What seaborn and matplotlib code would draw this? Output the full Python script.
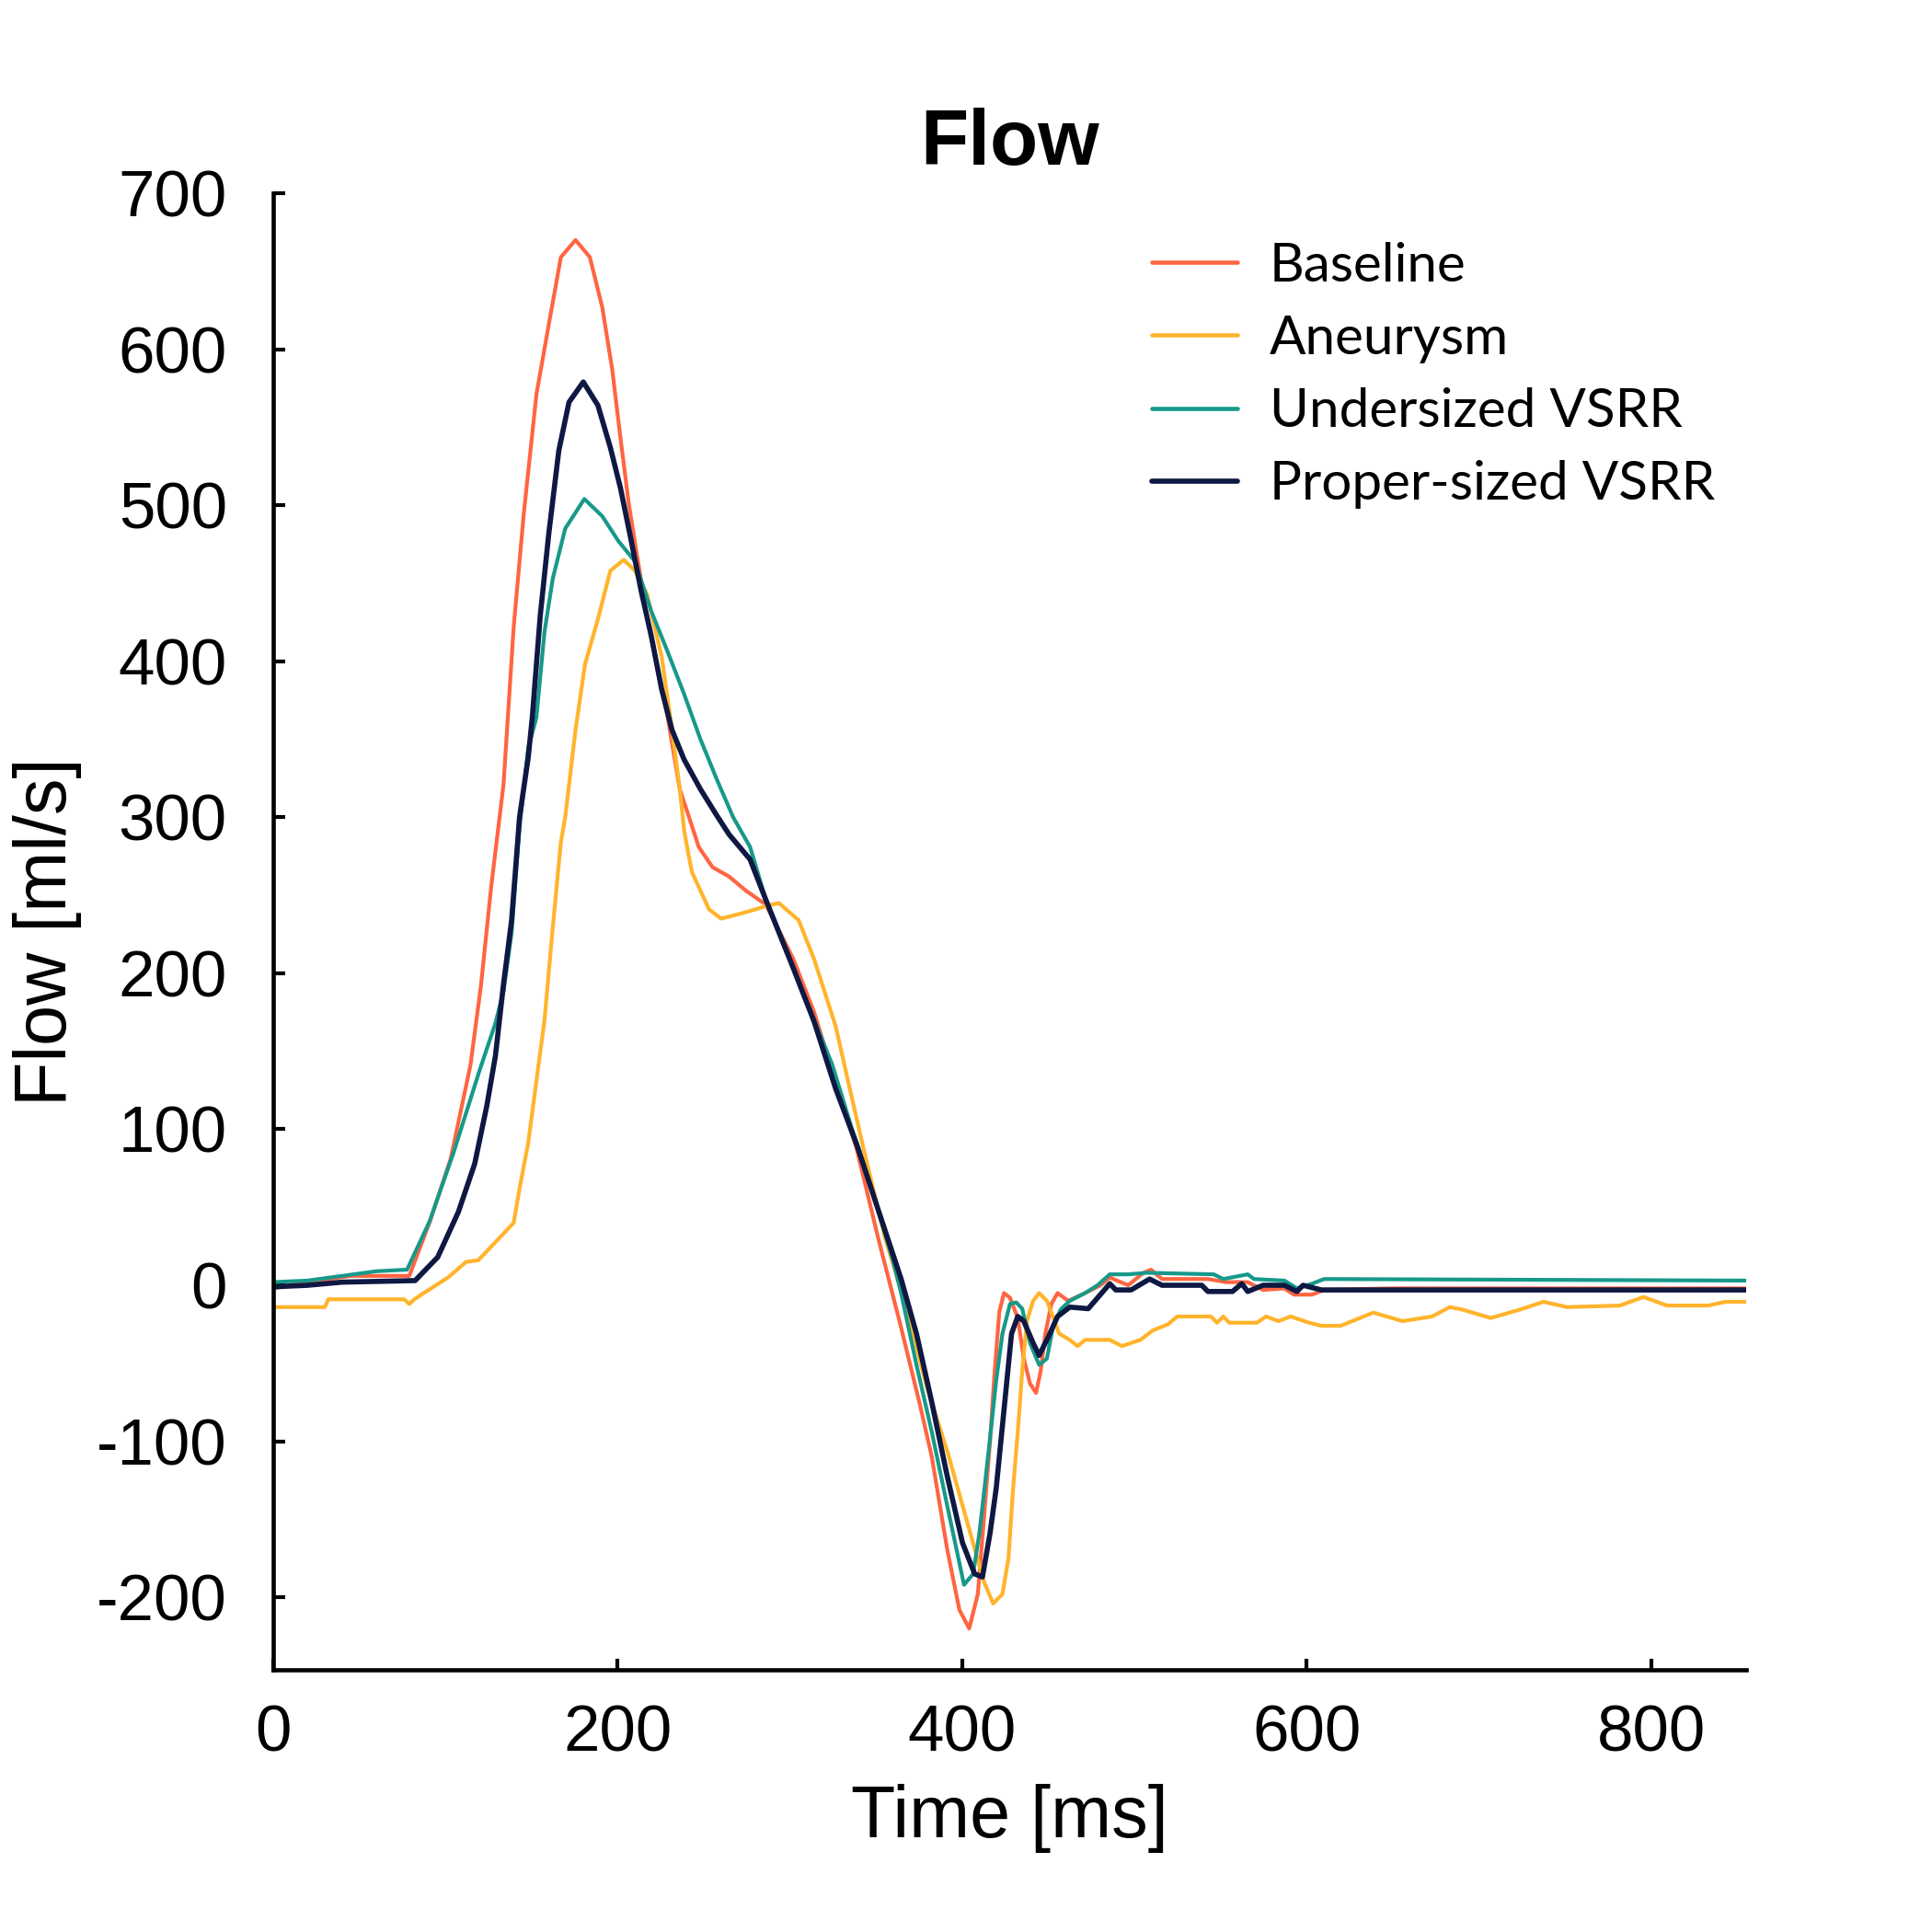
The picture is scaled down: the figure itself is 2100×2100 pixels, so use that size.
import numpy as np
import pandas as pd
import matplotlib
matplotlib.use("Agg")
import matplotlib.pyplot as plt
import seaborn as sns

# ---------------- data ----------------
series_names = ["Baseline", "Aneurysm", "Undersized VSRR", "Proper-sized VSRR"]
series_colors = ["#FF6542", "#FFB42C", "#17998A", "#0E1842"]

t_baseline = [0, 20, 45, 79, 91, 103, 114.5, 120.6, 126.5, 133.7, 139.6, 145.5, 152.8, 160, 167,
              175.5, 183.8, 191, 196.8, 201.6, 206.4, 211, 217, 223, 229, 236, 242, 247, 255,
              264.6, 274.3, 286, 302, 314, 326.5, 338.8, 351, 364, 375.5, 382.3, 391.2, 398.3,
              404, 409, 412.6, 416.1, 418.8, 421.5, 424.2, 427.7, 432.2, 435.7, 439.3, 442.8,
              445.5, 448.2, 451.7, 455.3, 461.5, 471.3, 480.2, 485.6, 496.3, 505.2, 509.6, 515.9,
              542.6, 553.2, 565.7, 574.6, 587.1, 592.4, 603, 610, 650, 855]
flow_baseline = [-2, 2, 6, 6, 41, 81, 141, 192, 255, 321, 422, 495, 571, 616, 659,
                 670, 659, 627, 587, 543, 501, 469, 429, 395, 364, 318, 298, 281, 268,
                 262, 253, 244, 209, 175, 130, 87, 31, -25, -77, -110, -169, -208,
                 -220, -198, -149, -100, -55, -17, -5, -8, -21, -47, -63, -69,
                 -55, -31, -12, -5, -10, -5, 0, 5, 0, 8, 10, 4,
                 4, 2, 2, -3, -2, -6, -6, -3, -2, -2]

t_aneurysm = [0, 30, 32, 60, 76, 79, 82, 86, 101.5, 112, 119, 139.6, 143, 148, 154, 157.5, 162,
              167, 169.5, 175.5, 181, 188.5, 195.7, 203.5, 210, 217, 225.5, 231.5, 236, 238.6,
              243, 253, 260, 274, 286, 293.5, 305, 314, 326.5, 334.7, 342.8, 355, 367.4, 379.6,
              391.5, 400.1, 407.2, 412.6, 417.9, 423.3, 426.8, 429.5, 432.2, 434.8, 437.5, 441.1,
              444.6, 449.1, 452.6, 456.2, 462.4, 466.9, 471.3, 485.6, 492.7, 503.4, 510.5, 519.4,
              524.8, 544.3, 547.9, 551.5, 555, 571, 576.4, 583.5, 590.6, 601.3, 608.5, 619.6,
              638.6, 655.6, 672.7, 683, 690, 706.8, 724, 737.4, 751, 781.8, 795.4, 809, 833,
              843, 855]
flow_aneurysm = [-14, -14, -9, -9, -9, -12, -9, -6, 5, 15, 16, 40, 62, 91, 141, 170, 226,
                 284, 300, 356, 398, 427, 458, 465, 458, 443, 403, 356, 318, 291,
                 265, 241, 235, 239, 243, 245, 234, 209, 166, 126, 87, 31, -14, -66,
                 -107, -141, -169, -190, -204, -198, -175, -130, -94, -55, -23, -10,
                 -5, -10, -20, -31, -35, -39, -35, -35, -39, -35, -29, -25,
                 -20, -20, -24, -20, -24, -24, -20, -23, -20, -24, -26, -26,
                 -17.5, -23, -20, -14, -15.5, -21, -15.5, -10.6, -14, -13, -7.5, -13, -13,
                 -10.6, -10.6]

t_undersized = [0, 20, 40, 60, 77.7, 90.8, 105, 119.3, 129, 133.8, 138.4, 143, 148, 152.8,
                157.5, 162.3, 169.5, 180.6, 191, 200.4, 210, 219.5, 229, 238.5, 248, 257.6,
                267, 276.8, 286, 298, 310, 324.5, 336, 348, 360, 364.5, 373.4, 382.3, 391.2,
                396.6, 401, 406.3, 409.9, 412.6, 416.1, 419.7, 423.3, 427.7, 431.3, 434.8,
                439.3, 444.6, 449.1, 452.6, 457.1, 462.4, 471.3, 478.5, 485.6, 496.3, 507,
                546, 551.5, 565.7, 569.3, 587, 594.2, 603, 610, 855]
flow_undersized = [2, 3, 6, 9, 10, 41, 86, 136, 168, 189, 226, 294, 344, 364,
                   419, 453, 485, 504, 493, 477, 464, 432, 406, 379, 350, 324,
                   300, 281, 247, 215, 181, 141.5, 100, 60, 15, -5, -51, -94, -141,
                   -169, -192, -185, -159, -133, -98, -61, -31, -12, -11, -15,
                   -37, -51, -47, -27, -15.5, -10, -5, 0, 7, 7, 8,
                   7, 4, 7, 4, 3, -2, 1, 4, 3]

t_proper = [0, 20, 40, 82.4, 95.5, 107.5, 117, 124, 129, 133.8, 138.4, 143, 148, 150.4, 155,
            160, 165.8, 171.7, 180, 188.5, 195.7, 201.6, 207.5, 213.6, 219.5, 225.5, 231.5,
            238.5, 248, 257, 264.6, 276.8, 286, 302, 314, 326.5, 338.8, 351, 364.5, 373.4,
            382.3, 391.2, 400.1, 407.2, 411.7, 416.1, 419.7, 423.3, 425.9, 428.6, 432.2,
            435.7, 441.1, 444.6, 450, 455.3, 462.4, 473.1, 485.6, 489.1, 498, 508.7, 515.9,
            539, 542.6, 556.8, 562.2, 565.7, 574.6, 587, 594.2, 597.8, 608.5, 855]
flow_proper = [-1, 0, 2, 3, 18, 47, 78, 115, 147, 194, 234, 300, 338, 364, 429,
               482, 535, 566, 579, 564, 537, 511, 479, 445, 416, 382, 356,
               337, 318, 302, 289, 273, 247, 203, 169, 126, 90, 49, 4, -31,
               -75, -122, -165, -185, -187, -159, -130, -90, -61, -31, -20,
               -23, -37, -45, -33, -20, -14, -15, 1, -3, -3, 4, 0,
               0, -4, -4, 1, -4, 0, 0, -4, 0, -3, -3]

x_ticks = [0, 200, 400, 600, 800]
y_ticks = [-200, -100, 0, 100, 200, 300, 400, 500, 600, 700]

title_text = "Flow"
x_label = "Time [ms]"
y_label = "Flow [ml/s]"

# ---------------- build long-form table ----------------
frames = []
for name, t, f in zip(series_names,
                      [t_baseline, t_aneurysm, t_undersized, t_proper],
                      [flow_baseline, flow_aneurysm, flow_undersized, flow_proper]):
    frames.append(pd.DataFrame({"Time": t, "Flow": f, "Series": name}))
df = pd.concat(frames, ignore_index=True)

# ---------------- style ----------------
sns.set_style("ticks", {"xtick.direction": "in", "ytick.direction": "in",
                        "text.color": "black", "axes.labelcolor": "black",
                        "xtick.color": "black", "ytick.color": "black",
                        "axes.edgecolor": "black"})
plt.rcParams["font.family"] = ["Liberation Sans", "DejaVu Sans"]
plt.rcParams["axes.unicode_minus"] = False
plt.rcParams["text.color"] = "black"

fig = plt.figure(figsize=(7, 7), dpi=300)
ax = fig.add_axes([0.1414, 0.1357, 0.7624, 0.7643])

palette = dict(zip(series_names, series_colors))
sns.lineplot(data=df, x="Time", y="Flow", hue="Series", hue_order=series_names,
             palette=palette, estimator=None, sort=False, ax=ax, linewidth=1.0,
             legend=True)
for line in ax.get_lines():
    if matplotlib.colors.to_hex(line.get_color()).lower() == series_colors[3].lower():
        line.set_linewidth(1.35)

ax.set_xlim(0, 855)
ax.set_ylim(-246.5, 700)
ax.set_xticks(x_ticks)
ax.set_yticks(y_ticks)
ax.tick_params(axis="both", which="major", direction="in", length=3, width=1.0,
               labelsize=17, colors="black")
ax.tick_params(axis="x", pad=9)
ax.tick_params(axis="y", pad=12)
for s in ["top", "right"]:
    ax.spines[s].set_visible(False)
for s in ["left", "bottom"]:
    ax.spines[s].set_linewidth(1.1)
    ax.spines[s].set_color("black")

ax.set_xlabel(x_label, fontsize=19, labelpad=5, color="black")
ax.set_ylabel(y_label, fontsize=19, labelpad=4, color="black")
ax.set_title(title_text, fontsize=20.5, fontweight="bold", pad=7.5, color="black")

handles, labels = ax.get_legend_handles_labels()
h2, l2 = [], []
for h, l in zip(handles, labels):
    if l in series_names:
        h2.append(h)
        l2.append(l)
for h, l in zip(h2, l2):
    h.set_linewidth(1.35 if l == "Proper-sized VSRR" else 1.1)
leg = ax.legend(h2, l2, loc="upper left", bbox_to_anchor=(0.596, 0.875),
                bbox_transform=fig.transFigure, frameon=False, borderpad=0,
                borderaxespad=0, handlelength=1.6, handletextpad=0.6,
                labelspacing=0.45, prop={"family": ["Lato", "DejaVu Sans"], "size": 14})
for txt in leg.get_texts():
    txt.set_color("black")

fig.savefig("out.png", dpi=300, facecolor="white")
